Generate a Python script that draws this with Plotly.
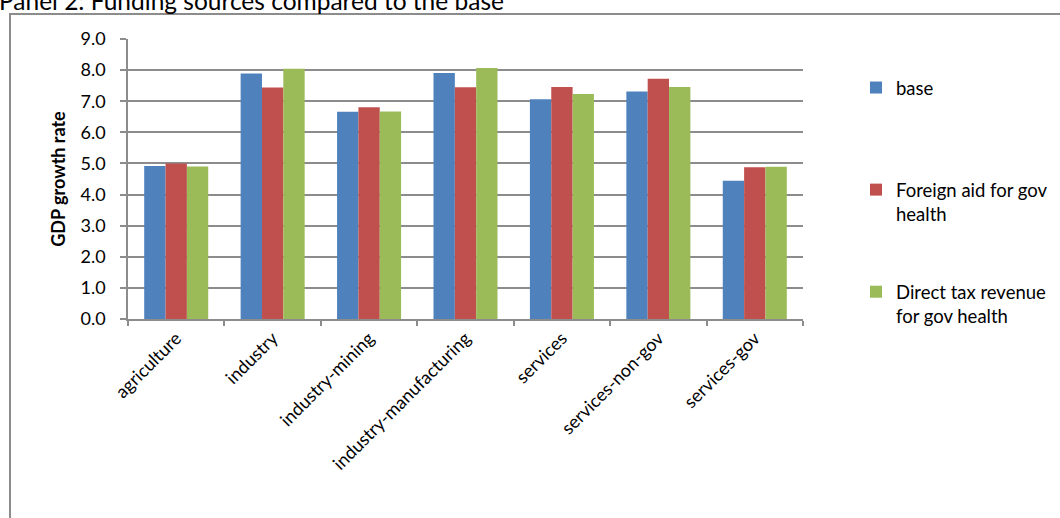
import plotly.graph_objects as go

categories = ["agriculture", "industry", "industry-mining", "industry-manufacturing",
              "services", "services-non-gov", "services-gov"]
base = [4.92, 7.89, 6.66, 7.91, 7.06, 7.31, 4.44]
foreign_aid = [5.00, 7.44, 6.81, 7.45, 7.46, 7.72, 4.88]
direct_tax = [4.90, 8.04, 6.67, 8.07, 7.23, 7.46, 4.89]
series_names = ["base<br>\u00a0", "Foreign aid for gov<br>health", "Direct tax revenue<br>for gov health"]
colors = ["#4F81BD", "#C0504D", "#9BBB59"]
y_ticks = [0, 1, 2, 3, 4, 5, 6, 7, 8, 9]

FONT = "Lato"
W, H = 1060, 518
L, R, T, B = 128, 803, 39, 319
GRID = "#8c8c8c"

fig = go.Figure()
for i, (name, vals) in enumerate(zip(series_names, [base, foreign_aid, direct_tax])):
    fig.add_trace(go.Bar(
        x=categories, y=vals, name=name, marker_color=colors[i],
        marker_line_width=0, legendgroup=f"g{i}",
    ))

def px(xp):
    return (xp - L) / (R - L)

def py(yp):
    return (B - yp) / (B - T)

fig.update_layout(
    width=W, height=H,
    margin=dict(l=L, r=W - R, t=T, b=H - B, pad=0, autoexpand=False),
    paper_bgcolor="white", plot_bgcolor="white",
    font=dict(family=FONT, size=18, color="black"),
    barmode="group", bargap=0.336, bargroupgap=0,
    showlegend=True,
    legend=dict(x=px(856), y=py(69), xanchor="left", yanchor="top",
                font=dict(size=18.5, family=FONT), tracegroupgap=51,
                valign="top", itemwidth=30, bgcolor="rgba(0,0,0,0)"),
    xaxis=dict(type="category", showgrid=False, showline=True, linecolor=GRID,
               linewidth=1.5, ticks="outside", tickson="boundaries", ticklen=5,
               tickcolor=GRID, tickwidth=1.5, tickangle=-45,
               tickfont=dict(size=18, family=FONT), range=[-0.5, 6.5]),
    yaxis=dict(range=[0, 9], tickvals=y_ticks, tickformat=".1f", showgrid=True,
               gridcolor=GRID, gridwidth=1.5, showline=True, linecolor=GRID,
               linewidth=1.5, ticks="outside", ticklen=6, tickcolor=GRID, tickwidth=1.5,
               ticklabelstandoff=11,
               tickfont=dict(size=18, family=FONT), zeroline=False,
               title=dict(text="<b>GDP growth rate</b>", font=dict(size=18, family=FONT),
                          standoff=10)),
)

fig.add_annotation(text="Panel 2: Funding sources compared to the base",
                   xref="paper", yref="paper", x=px(-3), y=py(17),
                   xanchor="left", yanchor="bottom", showarrow=False,
                   font=dict(size=24.5, family=FONT, color="black"))

fig.add_shape(type="rect", xref="paper", yref="paper",
              x0=px(10), x1=px(1070), y0=py(14), y1=py(540),
              line=dict(color=GRID, width=2), fillcolor="rgba(0,0,0,0)", layer="below")

fig.write_html("out.html")
